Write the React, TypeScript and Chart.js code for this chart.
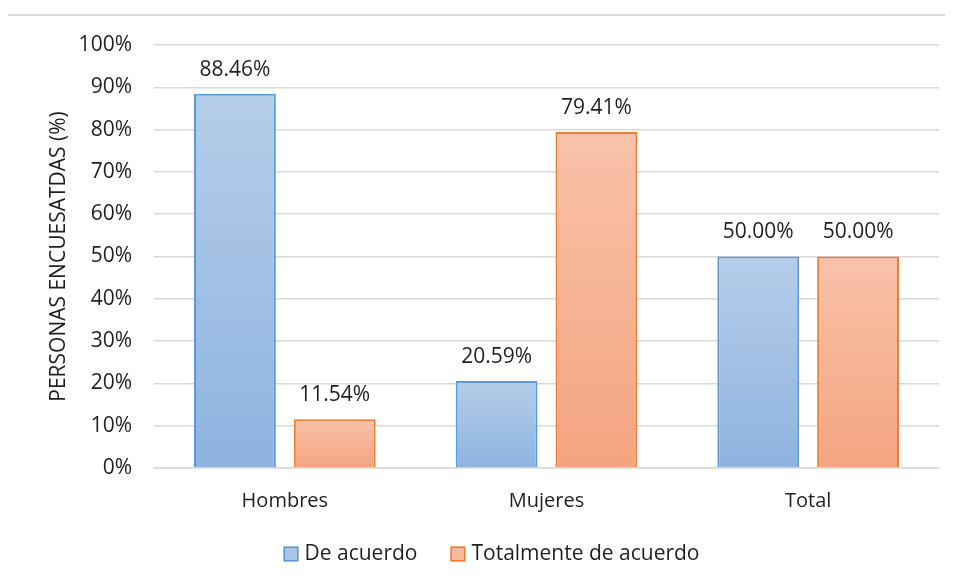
import { useEffect, useRef } from "react";
import { Chart, registerables } from "chart.js";

Chart.register(...registerables);

const categories = ["Hombres", "Mujeres", "Total"];
const seriesNames = ["De acuerdo", "Totalmente de acuerdo"];
const deAcuerdo = [88.46, 20.59, 50.0];
const totalmenteDeAcuerdo = [11.54, 79.41, 50.0];
const yAxisTitle = "PERSONAS ENCUESATDAS (%)";
const yMin = 0;
const yMax = 100;
const yStep = 10;

const FONT = "'Open Sans', 'Noto Sans', sans-serif";
const TEXT = "#1f1f1f";
const LEGEND_FILLS = ["#a9c5e8", "#f6b99d"];

function gradientFill(top: string, bottom: string, flat: string) {
  return (ctx: any) => {
    const chart = ctx.chart;
    if (!chart.chartArea || ctx.type !== "data") return flat;
    const y = chart.scales.y;
    const y0 = y.getPixelForValue(ctx.raw);
    const y1 = y.getPixelForValue(0);
    const g = chart.ctx.createLinearGradient(0, y0, 0, y1);
    g.addColorStop(0, top);
    g.addColorStop(1, bottom);
    return g;
  };
}

const valueLabels = {
  id: "valueLabels",
  afterDatasetsDraw(chart: any) {
    const ctx = chart.ctx;
    ctx.save();
    ctx.font = `21px ${FONT}`;
    ctx.fillStyle = TEXT;
    ctx.textAlign = "center";
    ctx.textBaseline = "middle";
    chart.data.datasets.forEach((ds: any, i: number) => {
      const meta = chart.getDatasetMeta(i);
      meta.data.forEach((el: any, j: number) => {
        const v = ds.data[j];
        ctx.fillText(`${v.toFixed(2)}%`, el.x, el.y - 24);
      });
    });
    ctx.restore();
  },
};

const customLegend = {
  id: "customLegend",
  afterDraw(chart: any) {
    const ctx = chart.ctx;
    ctx.save();
    ctx.font = `21px ${FONT}`;
    ctx.textBaseline = "middle";
    ctx.textAlign = "left";
    const box = 15;
    const gapText = 6;
    const gapItem = 33;
    const items = chart.data.datasets.map((ds: any, i: number) => ({
      label: ds.label,
      fill: LEGEND_FILLS[i],
      stroke: ds.borderColor,
      w: ctx.measureText(ds.label).width,
    }));
    const total =
      items.reduce((s: number, it: any) => s + box + gapText + it.w, 0) +
      gapItem * (items.length - 1);
    let x = chart.width / 2 + 15 - total / 2;
    const cy = 554;
    items.forEach((it: any) => {
      ctx.fillStyle = it.fill;
      ctx.fillRect(x, cy - box / 2, box, box);
      ctx.strokeStyle = it.stroke;
      ctx.lineWidth = 1.5;
      ctx.strokeRect(x + 0.75, cy - box / 2 + 0.75, box - 1.5, box - 1.5);
      x += box + gapText;
      ctx.fillStyle = TEXT;
      ctx.fillText(it.label, x, cy);
      x += it.w + gapItem;
    });
    ctx.restore();
  },
};

export default function App() {
  const ref = useRef<HTMLCanvasElement | null>(null);

  useEffect(() => {
    if (!ref.current) return;
    const chart = new Chart(ref.current, {
      type: "bar",
      data: {
        labels: categories,
        datasets: [
          {
            label: seriesNames[0],
            data: deAcuerdo,
            backgroundColor: gradientFill("#b5cde9", "#8eb3e0", "#a8c3e6"),
            borderColor: "#5b9bd5",
            borderWidth: 2,
            categoryPercentage: 0.763,
            barPercentage: 0.82,
          },
          {
            label: seriesNames[1],
            data: totalmenteDeAcuerdo,
            backgroundColor: gradientFill("#f8c2aa", "#f4a47f", "#f6b89b"),
            borderColor: "#ed7d31",
            borderWidth: 2,
            categoryPercentage: 0.763,
            barPercentage: 0.82,
          },
        ],
      },
      options: {
        animation: false,
        responsive: false,
        maintainAspectRatio: false,
        layout: { padding: { left: 0, right: 14, top: 45, bottom: 52 } },
        plugins: {
          legend: { display: false },
          tooltip: { enabled: false },
        },
        scales: {
          x: {
            grid: { display: false, drawTicks: false },
            border: { display: true, color: "#d9d9d9", width: 1.5 },
            ticks: {
              color: TEXT,
              font: { family: FONT, size: 20 },
              padding: 21,
            },
            afterFit: (scale: any) => {
              scale.height = 63;
            },
          },
          y: {
            min: yMin,
            max: yMax,
            ticks: {
              stepSize: yStep,
              color: TEXT,
              font: { family: FONT, size: 21 },
              padding: 22,
              callback: (v: any) => `${v}%`,
            },
            grid: { color: "#d9d9d9", lineWidth: 1.5, drawTicks: false },
            border: { display: false },
            title: {
              display: true,
              text: yAxisTitle,
              color: TEXT,
              font: { family: FONT, size: 21 },
              padding: { top: 46, bottom: 0 },
            },
            afterFit: (scale: any) => {
              scale.width = 154;
            },
          },
        },
      },
      plugins: [valueLabels, customLegend],
    });
    return () => chart.destroy();
  }, []);

  return (
    <div
      style={{
        position: "relative",
        width: 953,
        height: 583,
        margin: -8,
        overflow: "hidden",
        background: "#fff",
      }}
    >
      <div
        style={{
          position: "absolute",
          left: 4,
          top: 14,
          width: 980,
          height: 620,
          border: "2px solid #d9d9d9",
          pointerEvents: "none",
        }}
      />
      <canvas
        ref={ref}
        width={953}
        height={583}
        style={{ position: "absolute", left: 0, top: 0, width: 953, height: 583 }}
      />
    </div>
  );
}
